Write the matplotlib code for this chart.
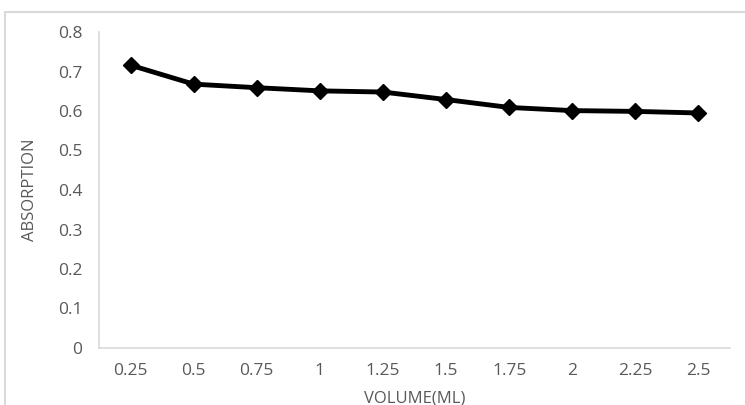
import matplotlib
matplotlib.use("Agg")
from matplotlib import pyplot as plt
from matplotlib.patches import Rectangle

plt.rcParams['font.family'] = ['Open Sans', 'DejaVu Sans']

volume = ["0.25", "0.5", "0.75", "1", "1.25", "1.5", "1.75", "2", "2.25", "2.5"]
absorption = [0.716, 0.668, 0.659, 0.651, 0.648, 0.629, 0.609, 0.601, 0.599, 0.595]
yticks = [0, 0.1, 0.2, 0.3, 0.4, 0.5, 0.6, 0.7, 0.8]

fig = plt.figure(figsize=(7.45, 4.05), dpi=100)
ax = fig.add_axes([99/745, 1-348/405, 631/745, 316/405])

x = range(len(volume))
ax.plot(x, absorption, color='black', linewidth=3.5, marker='D', markersize=8)

ax.set_xlim(-0.5, len(volume)-0.5)
ax.set_ylim(0, 0.8)
ax.set_xticks(list(x))
ax.set_xticklabels(volume)
ax.set_yticks(yticks)
ax.set_yticklabels([f"{v:g}" for v in yticks])
ax.tick_params(colors='#595959', labelsize=12.5, length=0)
ax.tick_params(axis='x', pad=11)
ax.tick_params(axis='y', pad=12)

for s in ['top', 'right']:
    ax.spines[s].set_visible(False)
for s in ['left', 'bottom']:
    ax.spines[s].set_color('#d9d9d9')
    ax.spines[s].set_linewidth(1.2)

ax.set_xlabel("VOLUME(ML)", color='#595959', fontsize=12, labelpad=8)
ax.set_ylabel("ABSORPTION", color='#595959', fontsize=12, labelpad=14)

#light border round the chart area
fig.patches.append(Rectangle((5/745, -0.1), 1.1, 1.1-12/405, transform=fig.transFigure,
                             fill=False, edgecolor='#d9d9d9', linewidth=1.5))

fig.savefig("out.png", dpi=100)
